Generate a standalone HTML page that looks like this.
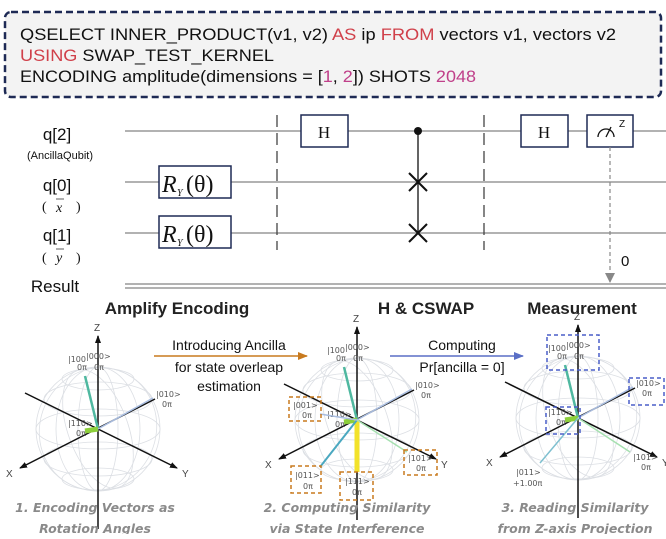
<!DOCTYPE html>
<html><head><meta charset="utf-8"><style>
body{margin:0;background:#fff;width:666px;height:534px;overflow:hidden;font-family:"Liberation Sans",sans-serif}
</style></head><body>
<svg width="666" height="534" viewBox="0 0 666 534" xmlns="http://www.w3.org/2000/svg" font-family="Liberation Sans, sans-serif">
<defs>
<marker id="ah" markerWidth="8" markerHeight="8" refX="7" refY="4" orient="auto" markerUnits="userSpaceOnUse"><path d="M0,1 L8,4 L0,7 Z" fill="#111"/></marker>
<marker id="ao" markerWidth="10" markerHeight="8" refX="9" refY="4" orient="auto" markerUnits="userSpaceOnUse"><path d="M0,0 L10,4 L0,8 Z" fill="#c87a1e"/></marker>
<marker id="ab" markerWidth="10" markerHeight="8" refX="9" refY="4" orient="auto" markerUnits="userSpaceOnUse"><path d="M0,0 L10,4 L0,8 Z" fill="#5a6fc6"/></marker>
<marker id="ag" markerWidth="10" markerHeight="10" refX="9" refY="5" orient="auto" markerUnits="userSpaceOnUse"><path d="M0,0 L10,5 L0,10 Z" fill="#888"/></marker>
<g id="sph">
 <g fill="none" stroke="#dcdfe4" stroke-width="0.8">
  <circle cx="0" cy="0" r="62"/>
  <ellipse cx="0" cy="0" rx="62" ry="20"/>
  <ellipse cx="0" cy="-30" rx="54" ry="17"/>
  <ellipse cx="0" cy="30" rx="54" ry="17"/>
  <ellipse cx="0" cy="-50" rx="36" ry="11"/>
  <ellipse cx="0" cy="50" rx="36" ry="11"/>
  <ellipse cx="0" cy="0" rx="20" ry="62"/>
  <ellipse cx="0" cy="0" rx="42" ry="62"/>
  <ellipse cx="0" cy="0" rx="58" ry="62" transform="rotate(25)"/>
  <ellipse cx="0" cy="0" rx="30" ry="62" transform="rotate(-20)"/>
 </g>
 <line x1="0" y1="100" x2="0" y2="-93" stroke="#111" stroke-width="1.5" marker-end="url(#ah)"/>
 <line x1="-73" y1="-36" x2="79" y2="39" stroke="#111" stroke-width="1.5" marker-end="url(#ah)"/>
 <line x1="57" y1="-30" x2="-78" y2="39" stroke="#111" stroke-width="1.5" marker-end="url(#ah)"/>
 <g font-size="10" fill="#444"><text x="-4" y="-98">Z</text><text x="84" y="48">Y</text><text x="-92" y="48">X</text></g>
 <g font-family="DejaVu Sans, sans-serif" font-size="8" fill="#555">
  <text x="-30" y="-67">|100</text><text x="-12" y="-70">|000&gt;</text>
  <text x="-21" y="-59">0π</text><text x="-4" y="-59">0π</text>
  <text x="58" y="-32">|010&gt;</text><text x="64" y="-22">0π</text>
  <text x="-30" y="-3">|110&gt;</text><text x="-22" y="7">0π</text>
 </g>
 <line x1="0" y1="0" x2="-13" y2="-53" stroke="#4fb8a0" stroke-width="2.5"/>
 <line x1="0" y1="0" x2="55" y2="-31" stroke="#a9bde0" stroke-width="1.5"/>
 <line x1="0" y1="0" x2="-13" y2="2" stroke="#8ccf3a" stroke-width="5"/>
</g>
</defs>

<!-- query box -->
<rect x="5" y="12" width="656" height="85" rx="6" fill="#f3f3f3" stroke="#1e2a55" stroke-width="2.5" stroke-dasharray="7,4"/>
<g font-size="17" fill="#111">
<text x="20" y="40" textLength="596" lengthAdjust="spacingAndGlyphs">QSELECT INNER_PRODUCT(v1, v2) <tspan fill="#d0404a">AS</tspan> ip  <tspan fill="#d0404a">FROM</tspan> vectors v1, vectors v2</text>
<text x="20" y="61" textLength="254" lengthAdjust="spacingAndGlyphs"><tspan fill="#d0404a">USING</tspan> SWAP_TEST_KERNEL</text>
<text x="20" y="82" textLength="456" lengthAdjust="spacingAndGlyphs">ENCODING amplitude(dimensions = [<tspan fill="#c0408a">1</tspan>, <tspan fill="#c0408a">2</tspan>]) SHOTS <tspan fill="#c0408a">2048</tspan></text>
</g>

<!-- circuit -->
<g stroke="#999" stroke-width="1.5">
<line x1="125" y1="131" x2="666" y2="131"/>
<line x1="125" y1="182" x2="666" y2="182"/>
<line x1="125" y1="233" x2="666" y2="233"/>
<line x1="125" y1="284" x2="666" y2="284"/>
<line x1="125" y1="288" x2="666" y2="288"/>
</g>
<g stroke="#444" stroke-width="1.3" stroke-dasharray="12,6">
<line x1="277" y1="115" x2="277" y2="250"/>
<line x1="484" y1="115" x2="484" y2="250"/>
</g>
<g font-size="17" fill="#111" text-anchor="middle">
<text x="57" y="140">q[2]</text>
<text x="57" y="191">q[0]</text>
<text x="57" y="241">q[1]</text>
<text x="55" y="292">Result</text>
</g>
<text x="60" y="159" font-size="11" text-anchor="middle" fill="#111">(AncillaQubit)</text>
<g font-family="Liberation Serif, serif" font-style="italic" font-size="14" fill="#111">
<text x="42" y="211" font-style="normal">(</text><text x="56" y="212">x</text><text x="76" y="211" font-style="normal">)</text>
<text x="42" y="262" font-style="normal">(</text><text x="56" y="262">y</text><text x="76" y="262" font-style="normal">)</text>
</g>
<g stroke="#333" stroke-width="0.8"><line x1="56" y1="199" x2="64" y2="199"/><line x1="56" y1="249" x2="64" y2="249"/></g>
<g fill="#fff" stroke="#1e2a55" stroke-width="1.5">
<rect x="159" y="166" width="72" height="32"/>
<rect x="159" y="216" width="72" height="32"/>
<rect x="301" y="115" width="47" height="32"/>
<rect x="521" y="115" width="47" height="32"/>
<rect x="587" y="115" width="46" height="32"/>
</g>
<g font-family="Liberation Serif, serif" fill="#111">
<text x="162" y="192" font-size="24" font-style="italic">R</text><text x="177" y="196" font-size="10" font-style="italic">Y</text><text x="186" y="192" font-size="24">(θ)</text>
<text x="162" y="242" font-size="24" font-style="italic">R</text><text x="177" y="246" font-size="10" font-style="italic">Y</text><text x="186" y="242" font-size="24">(θ)</text>
<text x="324" y="138" font-size="17" text-anchor="middle">H</text>
<text x="544" y="138" font-size="17" text-anchor="middle">H</text>
</g>
<path d="M598,137 A8,8 0 0 1 614,137" fill="none" stroke="#111" stroke-width="1.3"/>
<line x1="606" y1="137" x2="611" y2="127" stroke="#111" stroke-width="1.3"/>
<text x="619" y="127" font-size="10" fill="#111">Z</text>
<line x1="418" y1="131" x2="418" y2="233" stroke="#111" stroke-width="1.3"/>
<circle cx="418" cy="131" r="4" fill="#111"/>
<g stroke="#111" stroke-width="2">
<line x1="409" y1="173" x2="427" y2="191"/><line x1="427" y1="173" x2="409" y2="191"/>
<line x1="409" y1="224" x2="427" y2="242"/><line x1="427" y1="224" x2="409" y2="242"/>
</g>
<line x1="610" y1="147" x2="610" y2="282" stroke="#888" stroke-width="1.2" stroke-dasharray="4,3" marker-end="url(#ag)"/>
<text x="621" y="266" font-size="15" fill="#111">0</text>

<!-- titles -->
<g font-weight="bold" font-size="17" fill="#222" text-anchor="middle">
<text x="177" y="314">Amplify Encoding</text>
<text x="426" y="314">H &amp; CSWAP</text>
<text x="582" y="314">Measurement</text>
</g>

<!-- spheres -->
<use href="#sph" transform="translate(98,429)"/>
<use href="#sph" transform="translate(357,420)"/>
<use href="#sph" transform="translate(578,418)"/>

<!-- sphere 2 extras -->
<line x1="357" y1="420" x2="357" y2="472" stroke="#f2e22a" stroke-width="5"/>
<line x1="357" y1="420" x2="320" y2="467" stroke="#4aa8c0" stroke-width="2"/>
<line x1="357" y1="420" x2="407" y2="452" stroke="#a6e0b0" stroke-width="1.5"/>
<line x1="357" y1="420" x2="320" y2="414" stroke="#a9bde0" stroke-width="1.5"/>
<g fill="none" stroke="#c87a1e" stroke-width="1.5" stroke-dasharray="4,3">
<rect x="289" y="397" width="32" height="24"/>
<rect x="291" y="466" width="30" height="27"/>
<rect x="340" y="472" width="33" height="28"/>
<rect x="404" y="450" width="33" height="25"/>
</g>
<g font-family="DejaVu Sans, sans-serif" font-size="8" fill="#555">
<text x="293" y="408">|001&gt;</text><text x="302" y="418">0π</text>
<text x="295" y="478">|011&gt;</text><text x="303" y="489">0π</text>
<text x="345" y="484">|111&gt;</text><text x="352" y="495">0π</text>
<text x="408" y="461">|101&gt;</text><text x="416" y="471">0π</text>
</g>

<!-- sphere 3 extras -->
<line x1="578" y1="418" x2="540" y2="463" stroke="#7fc0d0" stroke-width="1.5"/>
<line x1="578" y1="418" x2="630" y2="452" stroke="#a6e0b0" stroke-width="1.5"/>
<g fill="none" stroke="#4a5fc8" stroke-width="1.5" stroke-dasharray="4,3">
<rect x="547" y="335" width="52" height="35"/>
<rect x="629" y="378" width="35" height="27"/>
<rect x="546" y="407" width="34" height="27"/>
</g>
<g font-family="DejaVu Sans, sans-serif" font-size="8" fill="#555">
<text x="516" y="475">|011&gt;</text><text x="513" y="486">+1.00π</text>
<text x="633" y="460">|101&gt;</text><text x="641" y="470">0π</text>
</g>

<!-- arrows between spheres -->
<line x1="154" y1="356" x2="307" y2="356" stroke="#c87a1e" stroke-width="1.5" marker-end="url(#ao)"/>
<line x1="390" y1="356" x2="523" y2="356" stroke="#5a6fc6" stroke-width="1.5" marker-end="url(#ab)"/>
<g font-size="14" fill="#111" text-anchor="middle">
<text x="229" y="350">Introducing Ancilla</text>
<text x="229" y="372">for state overleap</text>
<text x="229" y="391">estimation</text>
<text x="462" y="350">Computing</text>
<text x="462" y="372">Pr[ancilla = 0]</text>
</g>

<!-- captions -->
<g font-family="DejaVu Sans, sans-serif" font-style="italic" font-weight="bold" font-size="12.5" fill="#8a8a8a" text-anchor="middle">
<text x="95" y="512">1. Encoding Vectors as</text>
<text x="95" y="533">Rotation Angles</text>
<text x="347" y="512">2. Computing Similarity</text>
<text x="347" y="533">via State Interference</text>
<text x="575" y="512">3. Reading Similarity</text>
<text x="575" y="533">from Z-axis Projection</text>
</g>
</svg>
</body></html>
